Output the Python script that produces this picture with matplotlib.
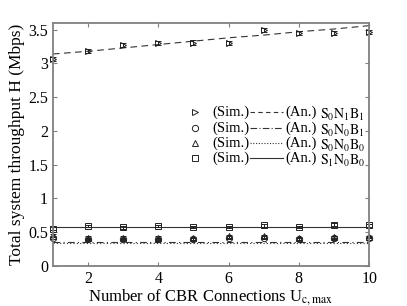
import matplotlib
matplotlib.use("Agg")
import matplotlib.pyplot as plt
import numpy as np

plt.rcParams['font.family'] = ['Liberation Serif', 'DejaVu Serif']
plt.rcParams['mathtext.fontset'] = 'stix'

x = [1, 2, 3, 4, 5, 6, 7, 8, 9, 10]

# Analytical curves
an_S0N1B1 = [3.14, 3.18, 3.23, 3.28, 3.33, 3.38, 3.42, 3.47, 3.51, 3.56]
an_S0N0B1 = [0.35, 0.35, 0.35, 0.35, 0.35, 0.35, 0.35, 0.35, 0.35, 0.35]
an_S0N0B0 = [0.345, 0.345, 0.345, 0.345, 0.345, 0.345, 0.345, 0.345, 0.345, 0.345]
an_S1N0B0 = [0.575, 0.575, 0.575, 0.575, 0.575, 0.575, 0.575, 0.575, 0.575, 0.575]

# Simulation points
sim_S0N1B1 = [3.07, 3.19, 3.27, 3.30, 3.31, 3.30, 3.49, 3.45, 3.45, 3.47]
sim_S0N0B1 = [0.42, 0.40, 0.40, 0.40, 0.40, 0.42, 0.42, 0.40, 0.42, 0.41]
sim_S0N0B0 = [0.45, 0.42, 0.42, 0.42, 0.41, 0.44, 0.44, 0.41, 0.43, 0.43]
sim_S1N0B0 = [0.55, 0.59, 0.57, 0.59, 0.575, 0.575, 0.60, 0.575, 0.61, 0.60]
err_S0N1B1 = [0.03, 0.03, 0.03, 0.03, 0.03, 0.03, 0.03, 0.03, 0.03, 0.03]
err_low = [0.02, 0.02, 0.02, 0.02, 0.02, 0.02, 0.02, 0.02, 0.02, 0.02]

xticks = [2, 4, 6, 8, 10]
yticks = [0, 0.5, 1, 1.5, 2, 2.5, 3, 3.5]
ytick_labels = ['0', '0.5', '1', '1.5', '2', '2.5', '3', '3.5']

fig = plt.figure(figsize=(4.07, 3.06), dpi=100)
ax = fig.add_axes([0.130, 0.131, 0.777, 0.794])

lw = 0.8
ax.plot(x, an_S0N1B1, color='#333333', lw=lw, ls=(0, (6, 4)))
ax.plot(x, an_S0N0B1, color='#333333', lw=lw, ls=(0, (6, 3, 1, 3)))
ax.plot(x, an_S0N0B0, color='#333333', lw=lw, ls=(0, (1, 2)))
ax.plot(x, an_S1N0B0, color='#333333', lw=lw, ls='-')

ms = 4.5
ekw = dict(ls='none', color='#222222', mfc='none', mec='#222222', ms=ms,
           elinewidth=0.7, capsize=2, capthick=0.7, mew=0.7, clip_on=False)
ax.errorbar(x, sim_S0N1B1, yerr=err_S0N1B1, marker='>', **ekw)
ax.errorbar(x, sim_S0N0B1, yerr=err_low, marker='o', **ekw)
ax.errorbar(x, sim_S0N0B0, yerr=err_low, marker='^', **ekw)
ax.errorbar(x, sim_S1N0B0, yerr=err_low, marker='s', **ekw)

ax.set_xlim(1, 10)
ax.set_ylim(0, 3.6)
ax.set_xticks(xticks)
ax.set_yticks(yticks)
ax.set_yticklabels(ytick_labels)
ax.tick_params(direction='in', length=3, color='#808080', labelsize=11.5,
               top=True, right=True, width=0.8)
for s in ax.spines.values():
    s.set_color('#808080')
    s.set_linewidth(1.3)

ax.set_xlabel(r'Number of CBR Connections U$_{\mathrm{c,max}}$', fontsize=12, labelpad=0)
ax.set_ylabel('Total system throughput H (Mbps)', fontsize=12.5, labelpad=2)

# Custom legend
rows = [0.634, 0.568, 0.506, 0.444]
markers = ['>', 'o', '^', 's']
styles = [(0, (4, 3)), (0, (6, 2, 1, 2)), (0, (1, 1.5)), '-']
labels = [r'$\mathrm{S_0N_1B_1}$', r'$\mathrm{S_0N_0B_1}$',
          r'$\mathrm{S_0N_0B_0}$', r'$\mathrm{S_1N_0B_0}$']
for yy, m, st, lab in zip(rows, markers, styles, labels):
    ax.plot([0.449], [yy], marker=m, ms=ms, mfc='none', mec='#222222', mew=0.7,
            transform=ax.transAxes, ls='none')
    ax.text(0.503, yy, '(Sim.)', transform=ax.transAxes, va='center', ha='left', fontsize=10.5)
    ax.plot([0.623, 0.728], [yy, yy], color='#333333', lw=lw, ls=st, transform=ax.transAxes)
    ax.text(0.734, yy, '(An.)', transform=ax.transAxes, va='center', ha='left', fontsize=10.5)
    ax.text(0.845, yy - 0.012, lab, transform=ax.transAxes, va='center', ha='left', fontsize=10)

fig.savefig('out.png', dpi=100)
